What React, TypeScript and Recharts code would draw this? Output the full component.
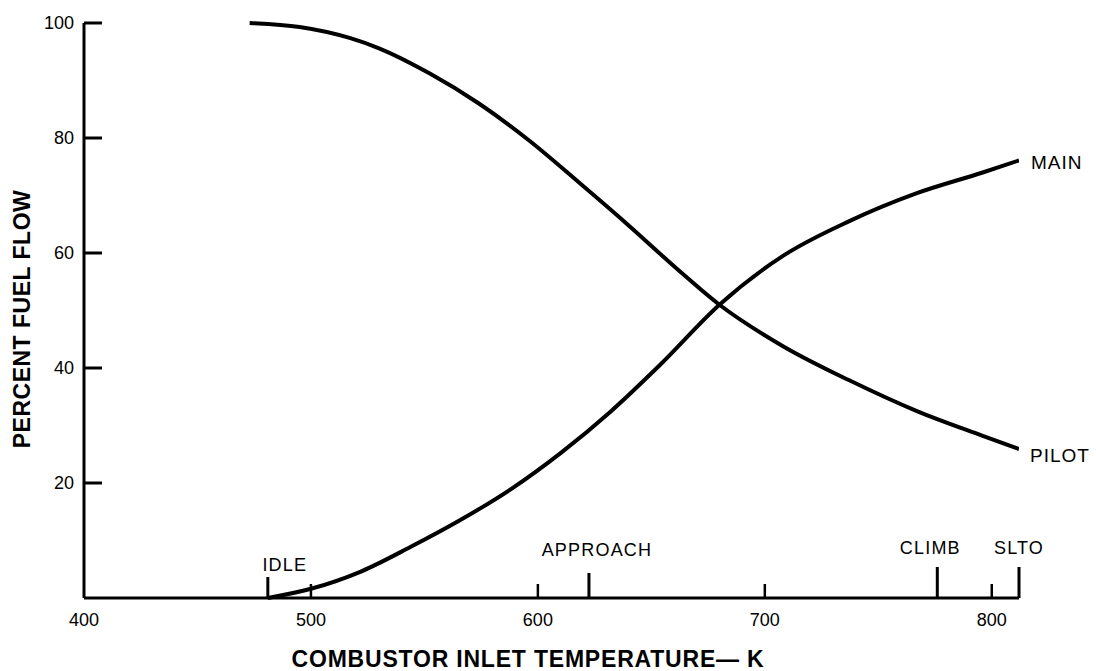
import React from 'react';
import { LineChart, Line, XAxis, YAxis, ReferenceLine, ReferenceDot, Label } from 'recharts';

// pilot fuel split, percent vs combustor inlet temperature (K)
const pilotTemp = [473, 495, 517, 530, 552, 574, 596, 618, 640, 662, 680, 708, 737, 767, 796, 812];
const pilotFlow = [100, 99.3, 97.4, 95.6, 91.3, 86, 79.6, 72.3, 64.8, 57, 51, 43.8, 37.9, 32.5, 28.2, 25.9];

// main fuel split
const mainTemp = [481, 500, 522, 544, 566, 588, 610, 632, 654, 680, 708, 737, 767, 796, 812];
const mainFlow = [0, 1.6, 4.6, 8.9, 13.6, 18.9, 25.2, 32.4, 40.6, 51, 59.5, 65.5, 70.4, 74.0, 76.1];

// operating modes marked on the temperature axis
const modeNames = ['IDLE', 'APPROACH', 'CLIMB', 'SLTO'];
const modeTemps = [481, 622.5, 776, 812];

const xTicks = [400, 500, 600, 700, 800];
const yTicks = [20, 40, 60, 80, 100];

const pilotData = pilotTemp.map((t, i) => ({ temp: t, flow: pilotFlow[i] }));
const mainData = mainTemp.map((t, i) => ({ temp: t, flow: mainFlow[i] }));

const FONT = '"Liberation Sans", Arial, Helvetica, sans-serif';

// marker look: tick height (px), label offset from tick, label height above axis
const modeStyle: { [k: string]: { h: number; dx: number; up: number } } = {
  IDLE: { h: 21, dx: 17, up: 33 },
  APPROACH: { h: 25, dx: 8, up: 48 },
  CLIMB: { h: 31, dx: -7, up: 50 },
  SLTO: { h: 31, dx: 0, up: 50 },
};

const YTick = (props: any) => {
  const { x, y, payload } = props;
  return (
    <g>
      <line x1={x} y1={y} x2={x + 18} y2={y} stroke="#000" strokeWidth={3} />
      <text x={x - 10} y={y} textAnchor="end" dominantBaseline="central" fontSize={18} fontFamily={FONT} fill="#000">
        {payload.value}
      </text>
    </g>
  );
};

const XTick = (props: any) => {
  const { x, y, payload } = props;
  return (
    <g>
      {payload.value !== 400 && <line x1={x} y1={y} x2={x} y2={y - 14} stroke="#000" strokeWidth={2.5} />}
      <text x={x} y={y + 22} textAnchor="middle" dominantBaseline="central" fontSize={18} fontFamily={FONT} fill="#000">
        {payload.value}
      </text>
    </g>
  );
};

const ModeMark = (props: any) => {
  const { x1, y1, y2, name } = props;
  const s = modeStyle[name];
  const base = Math.max(y1, y2);
  return (
    <g>
      <line x1={x1} y1={base} x2={x1} y2={base - s.h} stroke="#000" strokeWidth={3} />
      <text x={x1 + s.dx} y={base - s.up} textAnchor="middle" dominantBaseline="central" fontSize={18} letterSpacing={1.2} fontFamily={FONT} fill="#000">
        {name}
      </text>
    </g>
  );
};

const endLabel = (name: string, dx: number, dy: number) => (p: any) => (
  <text x={p.cx + dx} y={p.cy + dy} dominantBaseline="central" fontSize={19} letterSpacing={1} fontFamily={FONT} fill="#000">
    {name}
  </text>
);

const XTitle = (props: any) => {
  const { viewBox } = props;
  return (
    <text x={528} y={viewBox.y + 61} textAnchor="middle" dominantBaseline="central" fontSize={23} fontWeight="bold" letterSpacing={0.8} fontFamily={FONT} fill="#000">
      COMBUSTOR INLET TEMPERATURE— K
    </text>
  );
};

const YTitle = () => (
  <text x={22} y={319} transform="rotate(-90 22 319)" textAnchor="middle" dominantBaseline="central" fontSize={23} fontWeight="bold" letterSpacing={0.5} fontFamily={FONT} fill="#000">
    PERCENT FUEL FLOW
  </text>
);

export default function App() {
  const lastP = pilotData.length - 1;
  const lastM = mainData.length - 1;
  return (
    <div style={{ position: 'absolute', left: 0, top: 0, background: '#fff' }}>
      <LineChart width={1096} height={671} margin={{ top: 23, right: 77, bottom: 0, left: 24 }}>
        <XAxis
          type="number"
          dataKey="temp"
          domain={[400, 812]}
          ticks={xTicks}
          height={73}
          tickSize={0}
          tickMargin={0}
          tickLine={false}
          axisLine={{ stroke: '#000', strokeWidth: 3 }}
          tick={<XTick />}
          allowDataOverflow
        >
          <Label content={<XTitle />} />
        </XAxis>
        <YAxis
          type="number"
          domain={[0, 100]}
          ticks={yTicks}
          width={60}
          tickSize={0}
          tickMargin={0}
          tickLine={false}
          axisLine={{ stroke: '#000', strokeWidth: 3 }}
          tick={<YTick />}
        >
          <Label content={<YTitle />} />
        </YAxis>
        {modeNames.map((n, i) => (
          <ReferenceLine key={n} x={modeTemps[i]} stroke="none" shape={(p: any) => <ModeMark {...p} name={n} />} />
        ))}
        <Line data={pilotData} dataKey="flow" type="monotone" stroke="#000" strokeWidth={4} dot={false} isAnimationActive={false} />
        <Line data={mainData} dataKey="flow" type="monotone" stroke="#000" strokeWidth={4} dot={false} isAnimationActive={false} />
        <ReferenceDot x={pilotData[lastP].temp} y={pilotData[lastP].flow} r={0} shape={endLabel('PILOT', 11, 6)} />
        <ReferenceDot x={mainData[lastM].temp} y={mainData[lastM].flow} r={0} shape={endLabel('MAIN', 12, 2)} />
      </LineChart>
    </div>
  );
}
